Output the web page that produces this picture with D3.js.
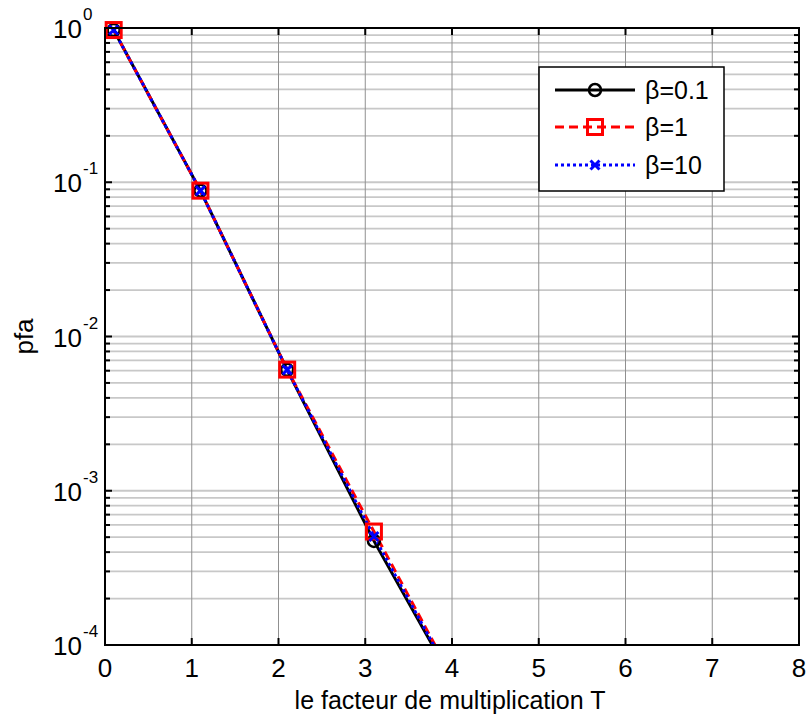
<!DOCTYPE html>
<html><head><meta charset="utf-8">
<script src="https://cdn.jsdelivr.net/npm/d3@7"></script>
<style>body{margin:0;background:#fff;} text{font-family:"Liberation Sans",Arial,sans-serif;}</style>
</head><body>
<svg id="c" width="810" height="722"></svg>
<script>
const xVals = [0.1, 1.1, 2.1, 3.1, 4.1];
const pfaBeta01 = [0.97, 0.0882, 0.00608, 4.73e-4, 4.7e-5];
const pfaBeta1 = [0.97, 0.0882, 0.00610, 5.44e-4, 4.9e-5];
const pfaBeta10 = [0.97, 0.0882, 0.00608, 5.05e-4, 4.8e-5];
const seriesNames = ["β=0.1", "β=1", "β=10"];
const xTicks = [0,1,2,3,4,5,6,7,8];
const yExps = [0,-1,-2,-3,-4];
const xLabel = "le facteur de multiplication T";
const yLabel = "pfa";

const L=105, R=799, T=28, B=645;
const svg = d3.select("#c");
const x = d3.scaleLinear().domain([0,8]).range([L,R]);
const y = d3.scaleLog().domain([1e-4,1]).range([B,T]);

svg.append("rect").attr("x",0).attr("y",0).attr("width",810).attr("height",722).attr("fill","#fff");
svg.append("defs").append("clipPath").attr("id","clip").append("rect")
  .attr("x",L).attr("y",T).attr("width",R-L).attr("height",B-T);

const yMinor = [];
for (let e=-4; e<0; e++) for (let m=1; m<10; m++) yMinor.push(m*Math.pow(10,e));
yMinor.push(1);

const grid = svg.append("g");
grid.selectAll("line.h").data(yMinor).join("line")
  .attr("x1",L).attr("x2",R).attr("y1",d=>y(d)).attr("y2",d=>y(d))
  .attr("stroke","#c8c8c8").attr("stroke-width",1.8);
grid.selectAll("line.v").data(xTicks).join("line")
  .attr("y1",T).attr("y2",B).attr("x1",d=>x(d)).attr("x2",d=>x(d))
  .attr("stroke","#909090").attr("stroke-width",1);

const tk = svg.append("g").attr("stroke","#000").attr("stroke-width",2);
yMinor.forEach(v=>{
  const major = Math.abs(Math.log10(v)-Math.round(Math.log10(v)))<1e-9;
  const len = major?7:5;
  tk.append("line").attr("x1",L).attr("x2",L+len).attr("y1",y(v)).attr("y2",y(v));
  tk.append("line").attr("x1",R).attr("x2",R-len).attr("y1",y(v)).attr("y2",y(v));
});
xTicks.forEach(v=>{
  tk.append("line").attr("x1",x(v)).attr("x2",x(v)).attr("y1",B).attr("y2",B-7);
  tk.append("line").attr("x1",x(v)).attr("x2",x(v)).attr("y1",T).attr("y2",T+7);
});

const series = [
  {vals:pfaBeta01, color:"#000", dash:null, marker:"o"},
  {vals:pfaBeta1, color:"#ff0000", dash:"9,5", marker:"s"},
  {vals:pfaBeta10, color:"#0000ff", dash:"3,3", marker:"x"}
];
const line = d3.line().x(d=>x(d[0])).y(d=>y(d[1]));
const lg = svg.append("g").attr("clip-path","url(#clip)");
series.forEach(s=>{
  const pts = xVals.map((v,i)=>[v,s.vals[i]]);
  lg.append("path").attr("d",line(pts)).attr("fill","none").attr("stroke",s.color)
    .attr("stroke-width",3).attr("stroke-dasharray",s.dash);
});
function drawMarker(g,type,cx,cy,color){
  if(type==="o") g.append("circle").attr("cx",cx).attr("cy",cy).attr("r",6).attr("fill","none").attr("stroke",color).attr("stroke-width",2.5);
  else if(type==="s") g.append("rect").attr("x",cx-7.5).attr("y",cy-7.5).attr("width",15).attr("height",15).attr("fill","none").attr("stroke",color).attr("stroke-width",3);
  else {
    const r=4.5;
    g.append("path").attr("d",`M${cx-r},${cy-r}L${cx+r},${cy+r}M${cx-r},${cy+r}L${cx+r},${cy-r}`).attr("stroke",color).attr("stroke-width",3);
  }
}
const mg = svg.append("g");
series.forEach(s=>{
  xVals.forEach((v,i)=>{
    const val=s.vals[i];
    if(val>=1e-4 && val<=1 && v<=8) drawMarker(mg,s.marker,x(v),y(val),s.color);
  });
});

svg.append("rect").attr("x",L).attr("y",T).attr("width",R-L).attr("height",B-T)
  .attr("fill","none").attr("stroke","#000").attr("stroke-width",2);

svg.append("g").selectAll("text").data(xTicks).join("text")
  .attr("x",d=>x(d)).attr("y",677).attr("text-anchor","middle").attr("font-size",26).text(d=>d);
const yl = svg.append("g");
yExps.forEach(e=>{
  const yy = y(Math.pow(10,e));
  yl.append("text").attr("x",82).attr("y",yy+10).attr("text-anchor","end").attr("font-size",26).text("10");
  yl.append("text").attr("x",83).attr("y",yy-8).attr("text-anchor","start").attr("font-size",17).text(String(e));
});
svg.append("text").attr("x",450).attr("y",709).attr("text-anchor","middle").attr("font-size",25).text(xLabel);
svg.append("text").attr("transform",`translate(33,${(T+B)/2}) rotate(-90)`).attr("text-anchor","middle").attr("font-size",26).text(yLabel);

const leg = svg.append("g");
leg.append("rect").attr("x",539).attr("y",67).attr("width",185).attr("height",124).attr("fill","#fff").attr("stroke","#000").attr("stroke-width",1.5);
const rowsY=[90,127,165];
series.forEach((s,i)=>{
  leg.append("line").attr("x1",555).attr("x2",635).attr("y1",rowsY[i]).attr("y2",rowsY[i])
    .attr("stroke",s.color).attr("stroke-width",3).attr("stroke-dasharray",s.dash);
  drawMarker(leg,s.marker,595,rowsY[i],s.color);
  leg.append("text").attr("x",645).attr("y",rowsY[i]+9).attr("font-size",25).text(seriesNames[i]);
});
</script>
</body></html>
